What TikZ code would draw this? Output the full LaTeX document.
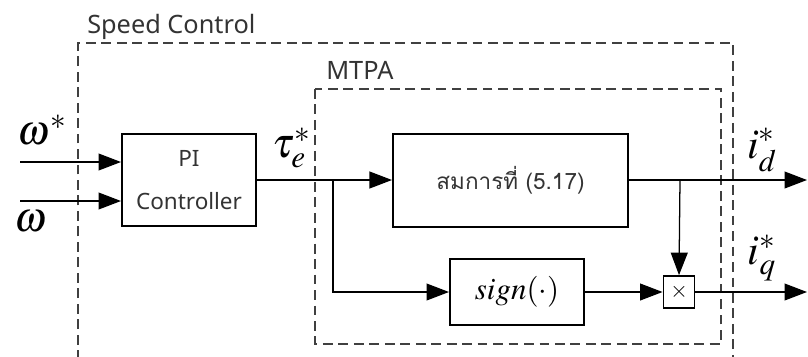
\documentclass[tikz,border=0pt]{standalone}
\usepackage{mathptmx}
\usepackage[no-math]{fontspec}
\setmainfont{Noto Sans}
\newfontfamily\thaifont[Script=Thai]{Loma}
\usetikzlibrary{arrows.meta}
\tikzset{
  blk/.style={draw,line width=1.4pt,inner sep=0pt},
  grp/.style={draw=black!75,line width=1pt,dash pattern=on 7pt off 4pt},
  sig/.style={line width=0.9pt,-{Triangle[length=16pt,width=12pt]}},
  lbl/.style={font=\fontsize{30}{32}\selectfont},
  txt/.style={font=\fontsize{16}{30}\selectfont,text=black!80}
}
\begin{document}
\begin{tikzpicture}[x=0.025cm,y=-0.025cm,line join=miter]
  \useasboundingbox (0,0) rectangle (808,356);
  % dashed groups
  \begin{scope}
    \clip (0,0) rectangle (808,356);
    \draw[grp] (78,360)--(78,43)--(733,43)--(733,360);
  \end{scope}
  \draw[grp] (315,89) rectangle (721,344);
  \node[txt,font=\fontsize{18}{20}\selectfont,anchor=base west,inner sep=0pt] (spd) at (87,33) {Speed Control};
  \node[txt,font=\fontsize{18}{20}\selectfont,anchor=base west,inner sep=0pt] (mtpa) at (326,79) {MTPA};
  % blocks
  \node[blk,txt,align=center,minimum width=3.35cm,minimum height=2.3cm] (pi) at (189,180) {PI\\Controller};
  \node[blk,txt,minimum width=5.875cm,minimum height=2.325cm] (eq) at (510.5,180.5) {\thaifont สมการที่ (5.17)};
  \node[blk,minimum width=3.35cm,minimum height=1.65cm,font=\fontsize{22}{24}\selectfont] (sgn) at (517,292) {$sign(\cdot)$};
  \node[blk,line width=1.2pt,minimum width=0.78cm,minimum height=0.8cm,font=\fontsize{16}{16}\selectfont] (mul) at (679,292) {$\times$};
  % signals
  \coordinate (wref) at (20,162);
  \coordinate (wfb) at (20,201);
  \coordinate (br) at (333,180);
  \coordinate (brd) at (680,180);
  \coordinate (idout) at (807,180);
  \coordinate (iqout) at (807,292);
  \draw[sig] (wref) -- (wref -| pi.west);
  \draw[sig] (wfb) -- (wfb -| pi.west);
  \draw[sig] (pi.east |- br) -- (eq.west |- br);
  \draw[sig] (br) |- (sgn.west);
  \draw[sig] (sgn.east) -- (mul.west);
  \draw[sig] (eq.east |- idout) -- (idout);
  \draw[sig] (brd) -- (mul.north);
  \draw[sig] (mul.east) -- (iqout);
  % labels
  \node[lbl] (lwref) at (42,130) {$\omega^*$};
  \node[lbl] (lwfb) at (31,221) {$\omega$};
  \node[lbl] (ltau) at (292,148) {$\tau_e^*$};
  \node[lbl] (lid) at (762,150) {$i_d^*$};
  \node[lbl] (liq) at (762,258) {$i_q^*$};
\end{tikzpicture}
\end{document}
